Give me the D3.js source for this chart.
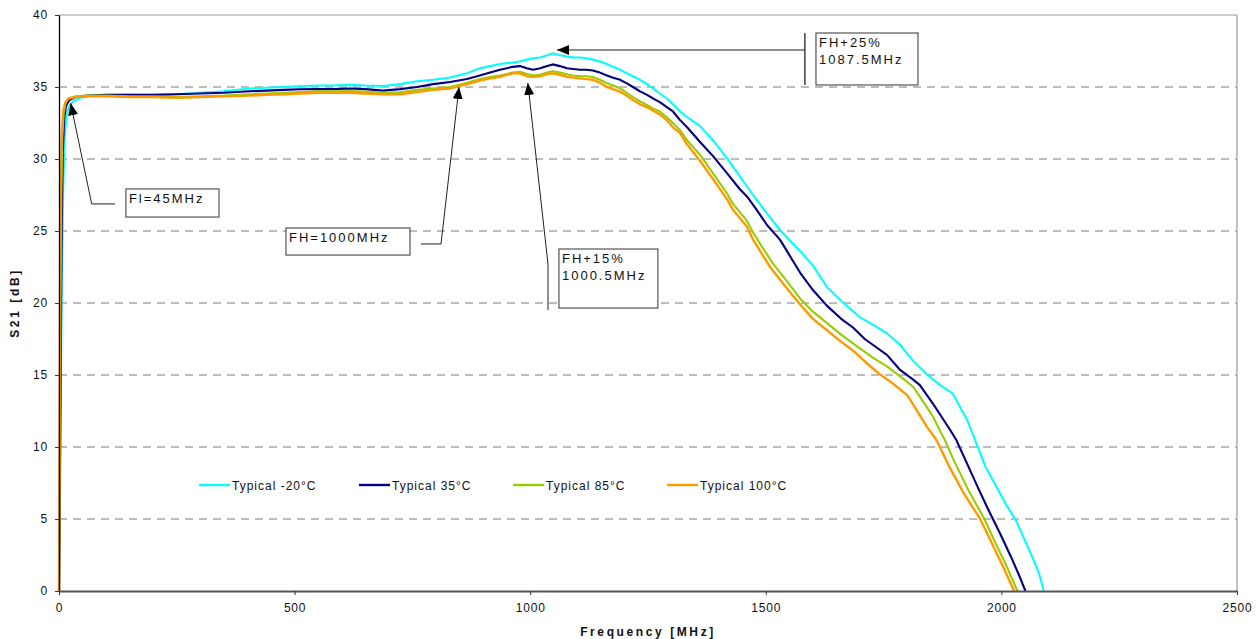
<!DOCTYPE html>
<html>
<head>
<meta charset="utf-8">
<script src="https://cdn.jsdelivr.net/npm/d3@7"></script>
<style>
  body { margin: 0; background: #fff; }
  svg text { font-family: "Liberation Sans", Arial, sans-serif; fill: #111; }
</style>
</head>
<body>
<svg id="chart" width="1259" height="639"></svg>
<script>
// S21 gain vs frequency, four temperatures: [frequency MHz, S21 dB]
const seriesNames = ["Typical -20°C", "Typical 35°C", "Typical 85°C", "Typical 100°C"];
const seriesColors = ["#00FFFF", "#000080", "#99CC00", "#FF9900"];

const typicalMinus20 = [
  [0,0],[2,6],[4,14],[6,22],[9,28],[12,31.5],[16,33],[22,33.7],[30,34.0],[45,34.25],[70,34.4],
  [100,34.45],[150,34.45],[200,34.45],[250,34.5],[300,34.6],[350,34.7],[405,34.9],[440,34.95],
  [475,35.0],[510,35.05],[548,35.1],[581,35.1],[618,35.15],[650,35.1],[688,35.07],[724,35.2],
  [760,35.4],[794,35.5],[830,35.66],[866,35.95],[893,36.3],[915,36.45],[936,36.6],[963,36.7],
  [978,36.77],[993,36.9],[1006,37.0],[1021,37.05],[1036,37.2],[1048,37.35],[1063,37.2],[1078,37.12],
  [1091,37.06],[1106,37.05],[1120,37.0],[1133,36.9],[1148,36.77],[1163,36.6],[1176,36.4],[1191,36.2],
  [1205,35.95],[1218,35.75],[1233,35.5],[1248,35.2],[1261,34.9],[1275,34.55],[1290,34.2],[1303,33.8],
  [1318,33.3],[1333,32.9],[1360,32.3],[1388,31.3],[1418,30.05],[1445,28.8],[1473,27.5],[1503,26.2],
  [1530,25.07],[1558,24.1],[1573,23.6],[1600,22.6],[1630,21.1],[1665,20.0],[1700,19.0],[1727,18.5],
  [1757,17.9],[1785,17.1],[1812,16.0],[1840,15.1],[1870,14.3],[1897,13.7],[1915,12.6],[1927,11.9],
  [1944,10.5],[1965,8.7],[1990,7.2],[2010,6.0],[2031,4.9],[2050,3.5],[2065,2.4],[2080,1.2],[2090,0]
];

const typical35 = [
  [0,0],[2,8],[4,18],[6,26],[8,30.5],[11,32.8],[15,33.7],[22,34.1],[35,34.3],[60,34.4],
  [100,34.45],[150,34.45],[200,34.45],[250,34.5],[300,34.55],[350,34.6],[405,34.7],[440,34.75],
  [475,34.8],[511,34.84],[548,34.85],[581,34.85],[618,34.9],[650,34.85],[688,34.75],[724,34.85],
  [760,35.0],[794,35.2],[830,35.35],[866,35.55],[893,35.8],[915,36.0],[936,36.2],[963,36.4],
  [978,36.45],[993,36.3],[1006,36.2],[1021,36.3],[1036,36.45],[1048,36.57],[1063,36.45],[1078,36.3],
  [1091,36.25],[1106,36.2],[1120,36.2],[1133,36.15],[1148,36.0],[1163,35.8],[1176,35.65],[1191,35.5],
  [1205,35.25],[1218,35.0],[1233,34.7],[1248,34.45],[1261,34.2],[1275,33.95],[1290,33.6],[1303,33.3],
  [1318,32.7],[1333,32.2],[1360,31.2],[1388,30.2],[1418,29.0],[1445,27.9],[1460,27.4],[1480,26.5],
  [1503,25.4],[1530,24.4],[1545,23.6],[1558,22.9],[1573,22.1],[1600,20.9],[1630,19.8],[1660,18.9],
  [1685,18.3],[1710,17.5],[1727,17.1],[1757,16.4],[1785,15.35],[1812,14.7],[1827,14.3],[1855,13.0],
  [1875,12.0],[1891,11.2],[1904,10.5],[1925,9.0],[1950,7.2],[1970,5.8],[1982,5.0],[2000,3.8],
  [2020,2.4],[2040,0.9],[2051,0]
];

const typical85 = [
  [0,0],[1.5,10],[3,20],[5,28],[7,31.5],[10,33.2],[14,33.9],[20,34.2],[35,34.35],[60,34.4],
  [100,34.4],[150,34.35],[200,34.35],[250,34.3],[300,34.35],[350,34.4],[405,34.5],[440,34.55],
  [475,34.6],[511,34.65],[548,34.7],[581,34.7],[618,34.72],[650,34.68],[688,34.6],[724,34.63],
  [760,34.8],[794,34.9],[830,35.0],[866,35.3],[893,35.55],[915,35.7],[936,35.8],[963,36.0],
  [978,36.06],[993,35.9],[1006,35.8],[1021,35.85],[1036,36.0],[1048,36.1],[1063,36.0],[1078,35.88],
  [1091,35.8],[1106,35.76],[1120,35.75],[1133,35.7],[1148,35.5],[1163,35.26],[1176,35.1],[1191,34.9],
  [1205,34.6],[1218,34.3],[1233,34.0],[1248,33.75],[1261,33.5],[1275,33.3],[1290,32.9],[1303,32.5],
  [1318,32.0],[1333,31.3],[1360,30.3],[1388,29.0],[1418,27.6],[1430,26.9],[1460,25.7],[1473,24.9],
  [1490,24.0],[1515,22.75],[1545,21.5],[1573,20.3],[1600,19.4],[1630,18.6],[1660,17.8],[1685,17.2],
  [1727,16.2],[1757,15.6],[1785,14.9],[1812,14.2],[1827,13.5],[1855,12.1],[1870,11.1],[1880,10.5],
  [1900,9.0],[1930,7.0],[1964,5.0],[1985,3.5],[2010,1.8],[2034,0]
];

const typical100 = [
  [0,0],[1,10],[2,20],[4,28],[6,31.8],[9,33.3],[13,33.9],[20,34.2],[35,34.3],[60,34.35],
  [100,34.35],[150,34.3],[200,34.3],[250,34.25],[300,34.3],[350,34.35],[405,34.4],[440,34.45],
  [475,34.5],[511,34.55],[548,34.6],[581,34.6],[618,34.6],[650,34.55],[688,34.5],[724,34.5],
  [760,34.65],[794,34.8],[830,34.9],[866,35.2],[893,35.45],[915,35.6],[936,35.7],[963,35.95],
  [978,35.95],[993,35.75],[1006,35.7],[1021,35.75],[1036,35.9],[1048,35.95],[1063,35.85],[1078,35.7],
  [1091,35.65],[1106,35.6],[1120,35.55],[1133,35.5],[1148,35.3],[1163,35.0],[1176,34.85],[1191,34.67],
  [1205,34.4],[1218,34.1],[1233,33.8],[1248,33.6],[1261,33.35],[1275,33.1],[1290,32.7],[1303,32.2],
  [1318,31.8],[1333,31.0],[1360,29.9],[1388,28.6],[1418,27.2],[1430,26.5],[1460,25.3],[1473,24.4],
  [1490,23.5],[1509,22.5],[1545,21.0],[1573,19.9],[1600,18.9],[1630,18.1],[1660,17.3],[1685,16.7],
  [1715,15.8],[1740,15.1],[1770,14.4],[1800,13.6],[1812,13.0],[1842,11.4],[1862,10.5],[1890,8.6],
  [1920,6.8],[1955,5.0],[1980,3.3],[2005,1.6],[2027,0]
];

const seriesData = [typicalMinus20, typical35, typical85, typical100];

const xTicks = [0, 500, 1000, 1500, 2000, 2500];
const yTicks = [0, 5, 10, 15, 20, 25, 30, 35, 40];

// Callouts: arrow path from tip outward, plus text box, all in data units
const callouts = [
  { lines: ["Fl=45MHz"], path: [[24.8,33.87],[69.4,26.88],[118.8,26.88]], box: [142,339.6,27.92,25.97] },
  { lines: ["FH=1000MHz"], path: [[849,35.0],[810.7,24.1],[768,24.1]], box: [481.7,744.9,25.21,23.33] },
  { lines: ["FH+15%","1000.5MHz"], path: [[995,35.28],[1037.8,22.7],[1037.8,19.51]], box: [1061,1271,23.75,19.65] },
  { lines: ["FH+25%","1087.5MHz"], path: [[1057,37.57],[1583,37.57]], bar: [1583,38.75,35.14], box: [1606.5,1823,38.75,35.14] }
];

const width = 1259, height = 639;
const margin = { top: 15, right: 22, bottom: 48, left: 59 };

const svg = d3.select("#chart");
const x = d3.scaleLinear().domain([0, 2500]).range([margin.left, width - margin.right]);
const y = d3.scaleLinear().domain([0, 40]).range([height - margin.bottom, margin.top]);

// Gridlines
svg.append("g").selectAll("line")
  .data(yTicks.filter(t => t > 0 && t < 40))
  .join("line")
  .attr("x1", x(0)).attr("x2", x(2500))
  .attr("y1", d => y(d)).attr("y2", d => y(d))
  .attr("stroke", "#7a7a7a").attr("stroke-width", 1)
  .attr("stroke-dasharray", "8,6");

// Plot frame: top and right edges
svg.append("line").attr("x1", x(0)).attr("x2", x(2500)).attr("y1", y(40)).attr("y2", y(40))
  .attr("stroke", "#9a9a9a").attr("stroke-width", 1.2);
svg.append("line").attr("x1", x(2500)).attr("x2", x(2500)).attr("y1", y(40)).attr("y2", y(0))
  .attr("stroke", "#9a9a9a").attr("stroke-width", 1.2);

// Series lines
const line = d3.line().x(d => x(d[0])).y(d => y(d[1]));
svg.append("g").selectAll("path")
  .data(seriesData)
  .join("path")
  .attr("d", line)
  .attr("fill", "none")
  .attr("stroke", (d, i) => seriesColors[i])
  .attr("stroke-width", (d, i) => i === 3 ? 2.4 : 2.1)
  .attr("stroke-linejoin", "round");

// Axes
const fmt = d3.format("d");
const yAxis = svg.append("g")
  .attr("transform", `translate(${x(0)},0)`)
  .call(d3.axisLeft(y).tickValues(yTicks).tickFormat(fmt).tickSize(4).tickSizeOuter(0).tickPadding(7));
yAxis.select(".domain").attr("stroke", "#000").attr("stroke-width", 1.3);
yAxis.selectAll(".tick line").attr("stroke", "#333");
yAxis.selectAll("text").attr("font-size", 12).attr("letter-spacing", 0.8)
  .attr("font-family", "'Liberation Sans', Arial, sans-serif").attr("fill", "#111");

const xAxis = svg.append("g")
  .attr("transform", `translate(0,${y(0)})`)
  .call(d3.axisBottom(x).tickValues(xTicks).tickFormat(fmt).tickSize(4).tickSizeOuter(0).tickPadding(8));
xAxis.select(".domain").attr("stroke", "#555").attr("stroke-width", 2.2);
xAxis.selectAll(".tick line").attr("stroke", "#333");
xAxis.selectAll("text").attr("font-size", 12).attr("letter-spacing", 0.8)
  .attr("font-family", "'Liberation Sans', Arial, sans-serif").attr("fill", "#111");

// Axis titles
svg.append("text")
  .attr("x", (x(0) + x(2500)) / 2).attr("y", 636)
  .attr("text-anchor", "middle").attr("font-size", 12).attr("font-weight", "bold")
  .attr("letter-spacing", 2.6)
  .text("Frequency [MHz]");
svg.append("text")
  .attr("transform", `translate(19,${(y(0) + y(40)) / 2}) rotate(-90)`)
  .attr("text-anchor", "middle").attr("font-size", 12).attr("font-weight", "bold")
  .attr("letter-spacing", 2.6)
  .text("S21 [dB]");

// Legend
const legendX = [199, 359, 513, 667];
const legend = svg.append("g").selectAll("g")
  .data(seriesNames)
  .join("g")
  .attr("transform", (d, i) => `translate(${legendX[i]},485)`);
legend.append("line").attr("x1", 0).attr("x2", 31).attr("y1", 0).attr("y2", 0)
  .attr("stroke", (d, i) => seriesColors[i]).attr("stroke-width", 2.4);
legend.append("text").attr("x", 33).attr("y", 4.5)
  .attr("font-size", 12).attr("letter-spacing", 1)
  .text(d => d);

// Callouts
const defs = svg.append("defs");
defs.append("marker")
  .attr("id", "arrowhead")
  .attr("markerUnits", "userSpaceOnUse")
  .attr("viewBox", "0 0 12 10")
  .attr("refX", 12).attr("refY", 5)
  .attr("markerWidth", 12).attr("markerHeight", 10)
  .attr("orient", "auto")
  .append("path").attr("d", "M0,0 L12,5 L0,10 Z").attr("fill", "#000");

const pathLine = d3.line().x(d => x(d[0])).y(d => y(d[1]));
const cg = svg.append("g");
callouts.forEach(c => {
  cg.append("path")
    .attr("d", pathLine(c.path.slice().reverse()))
    .attr("fill", "none").attr("stroke", "#222").attr("stroke-width", 1)
    .attr("marker-end", "url(#arrowhead)");
  if (c.bar) {
    cg.append("line")
      .attr("x1", x(c.bar[0])).attr("x2", x(c.bar[0]))
      .attr("y1", y(c.bar[1])).attr("y2", y(c.bar[2]))
      .attr("stroke", "#111").attr("stroke-width", 1.2);
  }
  const [f0, f1, d0, d1] = c.box;
  cg.append("rect")
    .attr("x", x(f0)).attr("y", y(d0))
    .attr("width", x(f1) - x(f0)).attr("height", y(d1) - y(d0))
    .attr("fill", "#fff").attr("stroke", "#333").attr("stroke-width", 1);
  c.lines.forEach((t, k) => {
    cg.append("text")
      .attr("x", x(f0) + 3).attr("y", y(d0) + 14 + k * 17)
      .attr("font-size", 13).attr("letter-spacing", 2)
      .text(t);
  });
});
</script>
</body>
</html>
